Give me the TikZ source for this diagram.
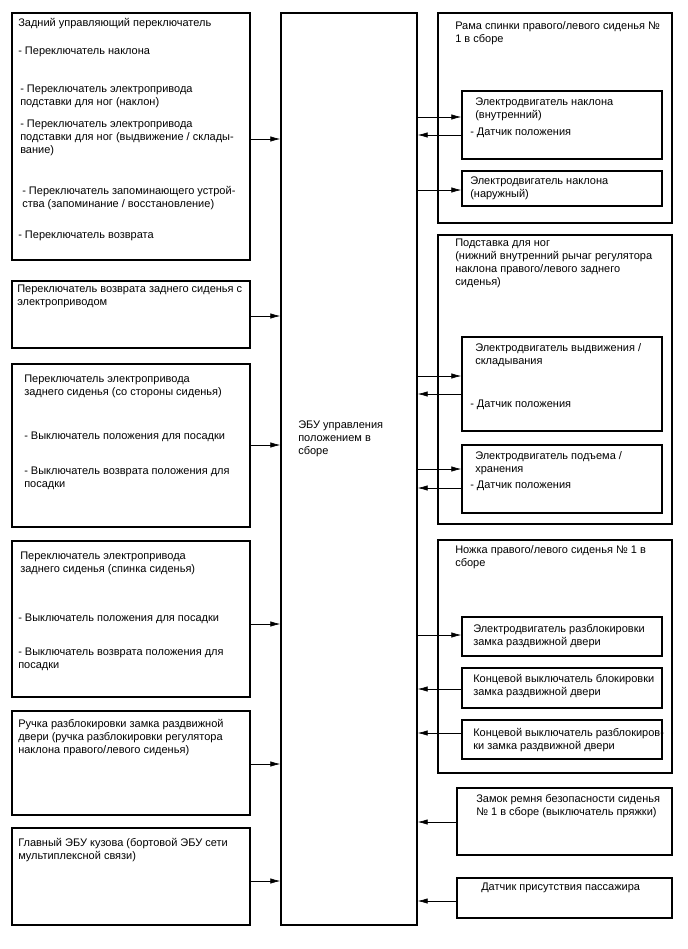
\documentclass[tikz,border=0pt]{standalone}
\usepackage{fontspec}
\setmainfont{Liberation Sans}
\usetikzlibrary{arrows.meta, positioning, fit, calc}

\begin{document}
\begin{tikzpicture}[x=0.75pt, y=-0.75pt,
  every node/.style={font=\fontsize{8.25}{9.6}\selectfont},
  box/.style={draw, line width=0.9pt, inner sep=0pt},
  lbl/.style={anchor=north west, inner sep=0pt, align=left, yshift=-1.5pt},
  arr/.style={-{Latex[length=7.5pt,width=4pt]}, line width=0.5pt},
]
\useasboundingbox (0,0) rectangle (688,949);

\node[box, fit={(12,13) (250,260)}] (rearsw) {};
\node[box, fit={(12,281) (250,348)}] (returnsw) {};
\node[box, fit={(12,364) (250,527)}] (seatsw) {};
\node[box, fit={(12,541) (250,697)}] (backsw) {};
\node[box, fit={(12,711) (250,815)}] (handle) {};
\node[box, fit={(12,828) (250,925)}] (mainecu) {};
\node[box, fit={(281,13) (417,925)}] (ecu) {};

\node[box, fit={(438,13) (672,223)}] (frame) {};
\node[box, fit={(462,91) (662,159)}] (motin) {};
\node[box, fit={(462,171) (662,206)}] (motout) {};
\node[box, fit={(438,235) (672,524)}] (ottoman) {};
\node[box, fit={(462,337) (662,431)}] (motslide) {};
\node[box, fit={(462,445) (662,513)}] (motlift) {};
\node[box, fit={(438,540) (672,773)}] (leg) {};
\node[box, fit={(462,617) (662,656)}] (motlock) {};
\node[box, fit={(462,668) (662,708)}] (lockswa) {};
\node[box, fit={(462,720) (662,759)}] (lockswb) {};
\node[box, fit={(457,788) (672,855)}] (buckle) {};
\node[box, fit={(457,878) (672,918)}] (occupant) {};

\node[lbl] (rearswT) at (18,16) {Задний управляющий переключатель};
\node[lbl] (rearswA) at (18,45) {- Переключатель наклона};
\node[lbl] (rearswB) at (20,83) {- Переключатель электропривода\\подставки для ног (наклон)};
\node[lbl] (rearswC) at (20,118) {- Переключатель электропривода\\подставки для ног (выдвижение / склады-\\вание)};
\node[lbl] (rearswD) at (22,184) {- Переключатель запоминающего устрой-\\ства (запоминание / восстановление)};
\node[lbl] (rearswE) at (18,229) {- Переключатель возврата};
\node[lbl] (returnswT) at (17,283) {Переключатель возврата заднего сиденья с\\электроприводом};
\node[lbl] (seatswT) at (24,373) {Переключатель электропривода\\заднего сиденья (со стороны сиденья)};
\node[lbl] (seatswA) at (24,430) {- Выключатель положения для посадки};
\node[lbl] (seatswB) at (24,465) {- Выключатель возврата положения для\\посадки};
\node[lbl] (backswT) at (20,550) {Переключатель электропривода\\заднего сиденья (спинка сиденья)};
\node[lbl] (backswA) at (18,612) {- Выключатель положения для посадки};
\node[lbl] (backswB) at (18,646) {- Выключатель возврата положения для\\посадки};
\node[lbl] (handleT) at (18,717) {Ручка разблокировки замка раздвижной\\двери (ручка разблокировки регулятора\\наклона правого/левого сиденья)};
\node[lbl] (mainecuT) at (18,836) {Главный ЭБУ кузова (бортовой ЭБУ сети\\мультиплексной связи)};
\node[lbl] (ecuT) at (298,419) {ЭБУ управления\\положением в\\сборе};

\node[lbl] (frameT) at (455,19) {Рама спинки правого/левого сиденья №\\1 в сборе};
\node[lbl] (motinT) at (475,96) {Электродвигатель наклона\\(внутренний)};
\node[lbl] (motinA) at (470,126) {- Датчик положения};
\node[lbl] (motoutT) at (470,175) {Электродвигатель наклона\\(наружный)};
\node[lbl] (ottomanT) at (455,237) {Подставка для ног\\(нижний внутренний рычаг регулятора\\наклона правого/левого заднего\\сиденья)};
\node[lbl] (motslideT) at (475,341) {Электродвигатель выдвижения /\\складывания};
\node[lbl] (motslideA) at (470,398) {- Датчик положения};
\node[lbl] (motliftT) at (475,449) {Электродвигатель подъема /\\хранения};
\node[lbl] (motliftA) at (470,479) {- Датчик положения};
\node[lbl] (legT) at (455,543) {Ножка правого/левого сиденья № 1 в\\сборе};
\node[lbl] (motlockT) at (473,622) {Электродвигатель разблокировки\\замка раздвижной двери};
\node[lbl] (lockswaT) at (473,672) {Концевой выключатель блокировки\\замка раздвижной двери};
\node[lbl] (lockswbT) at (473,726) {Концевой выключатель разблокиров-\\ки замка раздвижной двери};
\node[lbl] (buckleT) at (476,792) {Замок ремня безопасности сиденья\\№ 1 в сборе (выключатель пряжки)};
\node[lbl] (occupantT) at (481,881) {Датчик присутствия пассажира};

\draw[arr] (rearsw.east |- 0,139) -- (ecu.west |- 0,139);
\draw[arr] (returnsw.east |- 0,316) -- (ecu.west |- 0,316);
\draw[arr] (seatsw.east |- 0,445) -- (ecu.west |- 0,445);
\draw[arr] (backsw.east |- 0,624) -- (ecu.west |- 0,624);
\draw[arr] (handle.east |- 0,764) -- (ecu.west |- 0,764);
\draw[arr] (mainecu.east |- 0,881) -- (ecu.west |- 0,881);

\draw[arr] (ecu.east |- 0,117) -- (motin.west |- 0,117);
\draw[arr] (motin.west |- 0,135) -- (ecu.east |- 0,135);
\draw[arr] (ecu.east |- 0,190) -- (motout.west |- 0,190);
\draw[arr] (ecu.east |- 0,376) -- (motslide.west |- 0,376);
\draw[arr] (motslide.west |- 0,394) -- (ecu.east |- 0,394);
\draw[arr] (ecu.east |- 0,469) -- (motlift.west |- 0,469);
\draw[arr] (motlift.west |- 0,488) -- (ecu.east |- 0,488);
\draw[arr] (ecu.east |- 0,635) -- (motlock.west |- 0,635);
\draw[arr] (lockswa.west |- 0,689) -- (ecu.east |- 0,689);
\draw[arr] (lockswb.west |- 0,733) -- (ecu.east |- 0,733);
\draw[arr] (buckle.west |- 0,822) -- (ecu.east |- 0,822);
\draw[arr] (occupant.west |- 0,901) -- (ecu.east |- 0,901);
\end{tikzpicture}
\end{document}
